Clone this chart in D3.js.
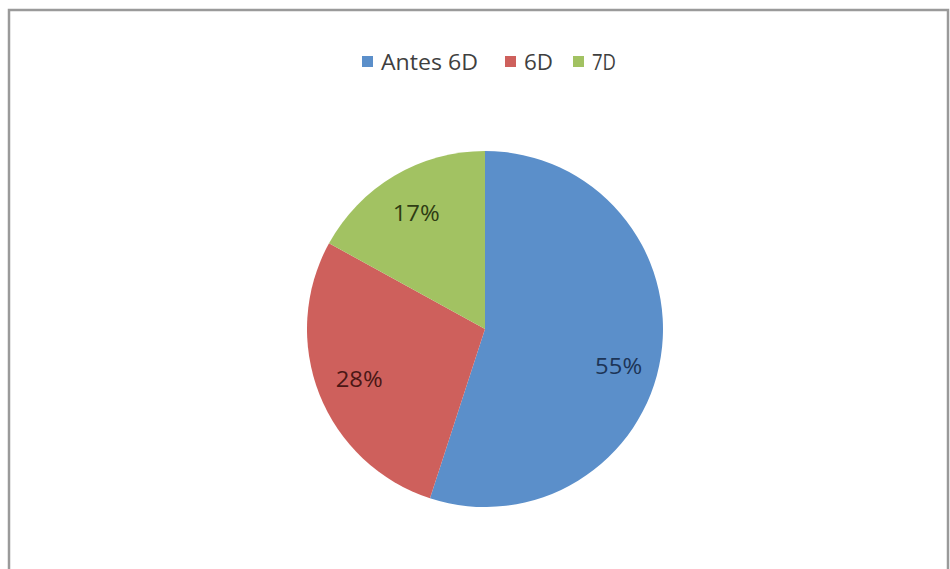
<!DOCTYPE html>
<html><head><meta charset="utf-8">
<script src="https://cdn.jsdelivr.net/npm/d3@7"></script>
<style>body{margin:0;background:#fff}svg{display:block}</style>
</head><body>
<svg id="c" width="950" height="569"></svg>
<script>
const categories = ["Antes 6D", "6D", "7D"];
const values = [55, 28, 17];
const labels = ["55%", "28%", "17%"];
const colors = ["#5B8FCA", "#CE605C", "#A2C262"];
const labelColors = ["#1d3557", "#4a1715", "#2f3d14"];

const svg = d3.select("#c");
// frame
svg.append("rect").attr("x", 9).attr("y", 10).attr("width", 939).attr("height", 580)
  .attr("fill", "#fff").attr("stroke", "#9a9a9a").attr("stroke-width", 2.5);

const cx = 485, cy = 329, r = 178;
const pie = d3.pie().sort(null).value(d => d);
const arcs = pie(values);
const arc = d3.arc().innerRadius(0).outerRadius(r);
const g = svg.append("g").attr("transform", `translate(${cx},${cy})`);
g.selectAll("path").data(arcs).join("path")
  .attr("d", arc).attr("fill", (d, i) => colors[i]);

const labelArc = d3.arc().innerRadius(r * 0.76).outerRadius(r * 0.76);
g.selectAll("text").data(arcs).join("text")
  .attr("transform", d => {
    const c = labelArc.centroid(d);
    // Excel best-fit nudges the large slice label slightly downward
    const dy = (d.endAngle - d.startAngle) > Math.PI ? 16 : 0;
    return `translate(${c[0]},${c[1] + dy})`;
  })
  .attr("text-anchor", "middle").attr("dominant-baseline", "central")
  .attr("font-family", "Open Sans, sans-serif").attr("font-size", 21)
  .attr("textLength", 47).attr("lengthAdjust", "spacingAndGlyphs")
  .attr("fill", (d, i) => labelColors[i])
  .text((d, i) => labels[i]);

// legend
const legX = [362, 505, 573];
const legW = [97, 29, 24];
const leg = svg.append("g");
categories.forEach((c, i) => {
  leg.append("rect").attr("x", legX[i]).attr("y", 56).attr("width", 11).attr("height", 11).attr("fill", colors[i]);
  leg.append("text").attr("x", legX[i] + 19).attr("y", 62).attr("dominant-baseline", "central")
    .attr("font-family", "Open Sans, sans-serif").attr("font-size", 21).attr("fill", "#3f3f3f")
    .attr("textLength", legW[i]).attr("lengthAdjust", "spacingAndGlyphs")
    .text(c);
});
</script>
</body></html>
